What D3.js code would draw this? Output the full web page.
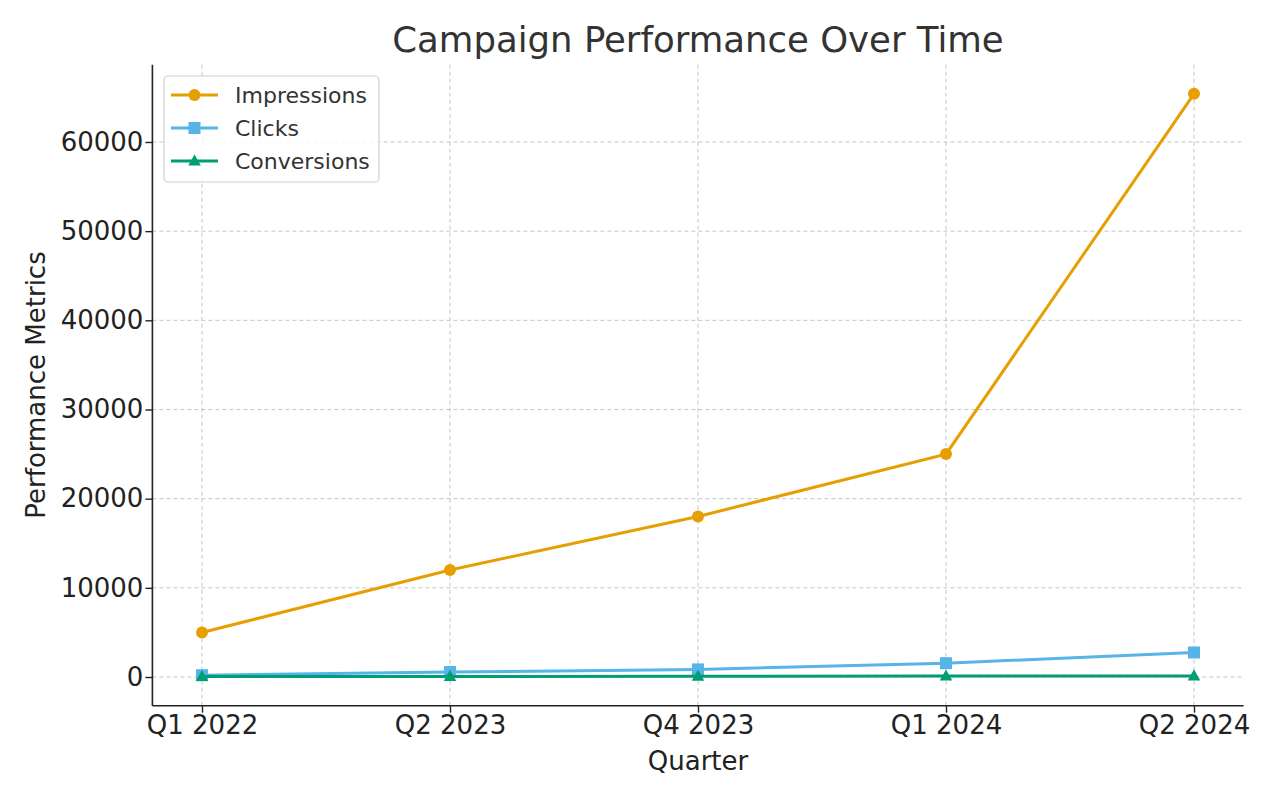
<!DOCTYPE html>
<html><head><meta charset="utf-8">
<script src="https://cdn.jsdelivr.net/npm/d3@7"></script>
<style>body{margin:0;background:#fff;} text{font-family:"DejaVu Sans",sans-serif;}</style>
</head><body>
<svg id="c" width="1280" height="800"></svg>
<script>
const quarters = ["Q1 2022","Q2 2023","Q4 2023","Q1 2024","Q2 2024"];
const impressions = [5000,12000,18000,25000,65400];
const clicks = [200,560,850,1550,2750];
const conversions = [50,60,80,100,120];
const yTicks = [0,10000,20000,30000,40000,50000,60000];
const seriesNames = ["Impressions","Clicks","Conversions"];
const colors = ["#E69F00","#56B4E9","#009E73"];
const markers = ["circle","square","triangle"];

const svg = d3.select("#c");
const L=152.4, R=1243.6, T=64.7, B=705.7;
const n = quarters.length;
const x = d3.scaleLinear().domain([-0.2, n-1+0.2]).range([L,R]);
const all = impressions.concat(clicks, conversions);
const mn = d3.min(all), mx = d3.max(all), pad=(mx-mn)*0.05;
const y = d3.scaleLinear().domain([mn-pad, mx+pad]).range([B,T]);

// grid
const g = svg.append("g");
g.selectAll(".gx").data(d3.range(n)).join("line")
 .attr("x1",d=>x(d)).attr("x2",d=>x(d)).attr("y1",T).attr("y2",B)
 .attr("stroke","#b0b0b0").attr("stroke-width",0.9).attr("stroke-dasharray","4,3").attr("opacity",0.8);
g.selectAll(".gy").data(yTicks).join("line")
 .attr("x1",L).attr("x2",R).attr("y1",d=>y(d)).attr("y2",d=>y(d))
 .attr("stroke","#b0b0b0").attr("stroke-width",0.9).attr("stroke-dasharray","4,3").attr("opacity",0.8);

// axes
const xAxis = d3.axisBottom(x).tickValues(d3.range(n)).tickFormat(i=>quarters[i]).tickSize(7).tickPadding(3);
const yAxis = d3.axisLeft(y).tickValues(yTicks).tickFormat(d3.format("d")).tickSize(7).tickPadding(2);
const gx = svg.append("g").attr("transform",`translate(0,${B})`).call(xAxis);
const gy = svg.append("g").attr("transform",`translate(${L},0)`).call(yAxis);
[gx,gy].forEach(a=>{
  a.select(".domain").attr("stroke","#222").attr("stroke-width",1.6);
  a.selectAll(".tick line").attr("stroke","#222").attr("stroke-width",1.4);
  a.selectAll(".tick text").attr("fill","#222").style("font-size","26px").style("font-family","DejaVu Sans");
});
gx.select(".domain").attr("d",`M${L},0H${R}`);
gy.select(".domain").attr("d",`M0,${B}V${T}`);

// series
const data = [impressions, clicks, conversions];
const line = d3.line().x((d,i)=>x(i)).y(d=>y(d));
function marker(sel, type, color, size){
  if(type==="circle") sel.append("circle").attr("r",size).attr("fill",color);
  else if(type==="square") sel.append("rect").attr("x",-size).attr("y",-size).attr("width",2*size).attr("height",2*size).attr("fill",color);
  else sel.append("path").attr("d",`M0,${-size*1.1}L${size*1.05},${size*0.75}L${-size*1.05},${size*0.75}Z`).attr("fill",color);
}
data.forEach((vals,k)=>{
  svg.append("path").datum(vals).attr("d",line).attr("fill","none")
   .attr("stroke",colors[k]).attr("stroke-width",3);
  vals.forEach((v,i)=>{
    const m = svg.append("g").attr("transform",`translate(${x(i)},${y(v)})`);
    marker(m, markers[k], colors[k], 6);
  });
});

// title & labels
svg.append("text").attr("x",698).attr("y",52).attr("text-anchor","middle")
 .style("font-size","35.5px").attr("fill","#333").text("Campaign Performance Over Time");
svg.append("text").attr("x",698).attr("y",770).attr("text-anchor","middle")
 .style("font-size","26px").attr("fill","#222").text("Quarter");
svg.append("text").attr("transform",`translate(45,385) rotate(-90)`).attr("text-anchor","middle")
 .style("font-size","26px").attr("fill","#222").text("Performance Metrics");

// legend
const lg = svg.append("g");
lg.append("rect").attr("x",164).attr("y",76).attr("width",215).attr("height",106).attr("rx",4)
 .attr("fill","#fff").attr("fill-opacity",0.8).attr("stroke","#d0d0d0").attr("stroke-width",1.2);
seriesNames.forEach((s,k)=>{
  const yy = 95 + k*33;
  lg.append("line").attr("x1",171).attr("x2",218).attr("y1",yy).attr("y2",yy).attr("stroke",colors[k]).attr("stroke-width",3);
  const m = lg.append("g").attr("transform",`translate(194.5,${yy})`);
  marker(m, markers[k], colors[k], 6);
  lg.append("text").attr("x",235).attr("y",yy+8).style("font-size","22px").attr("fill","#333").text(s);
});
</script>
</body></html>
